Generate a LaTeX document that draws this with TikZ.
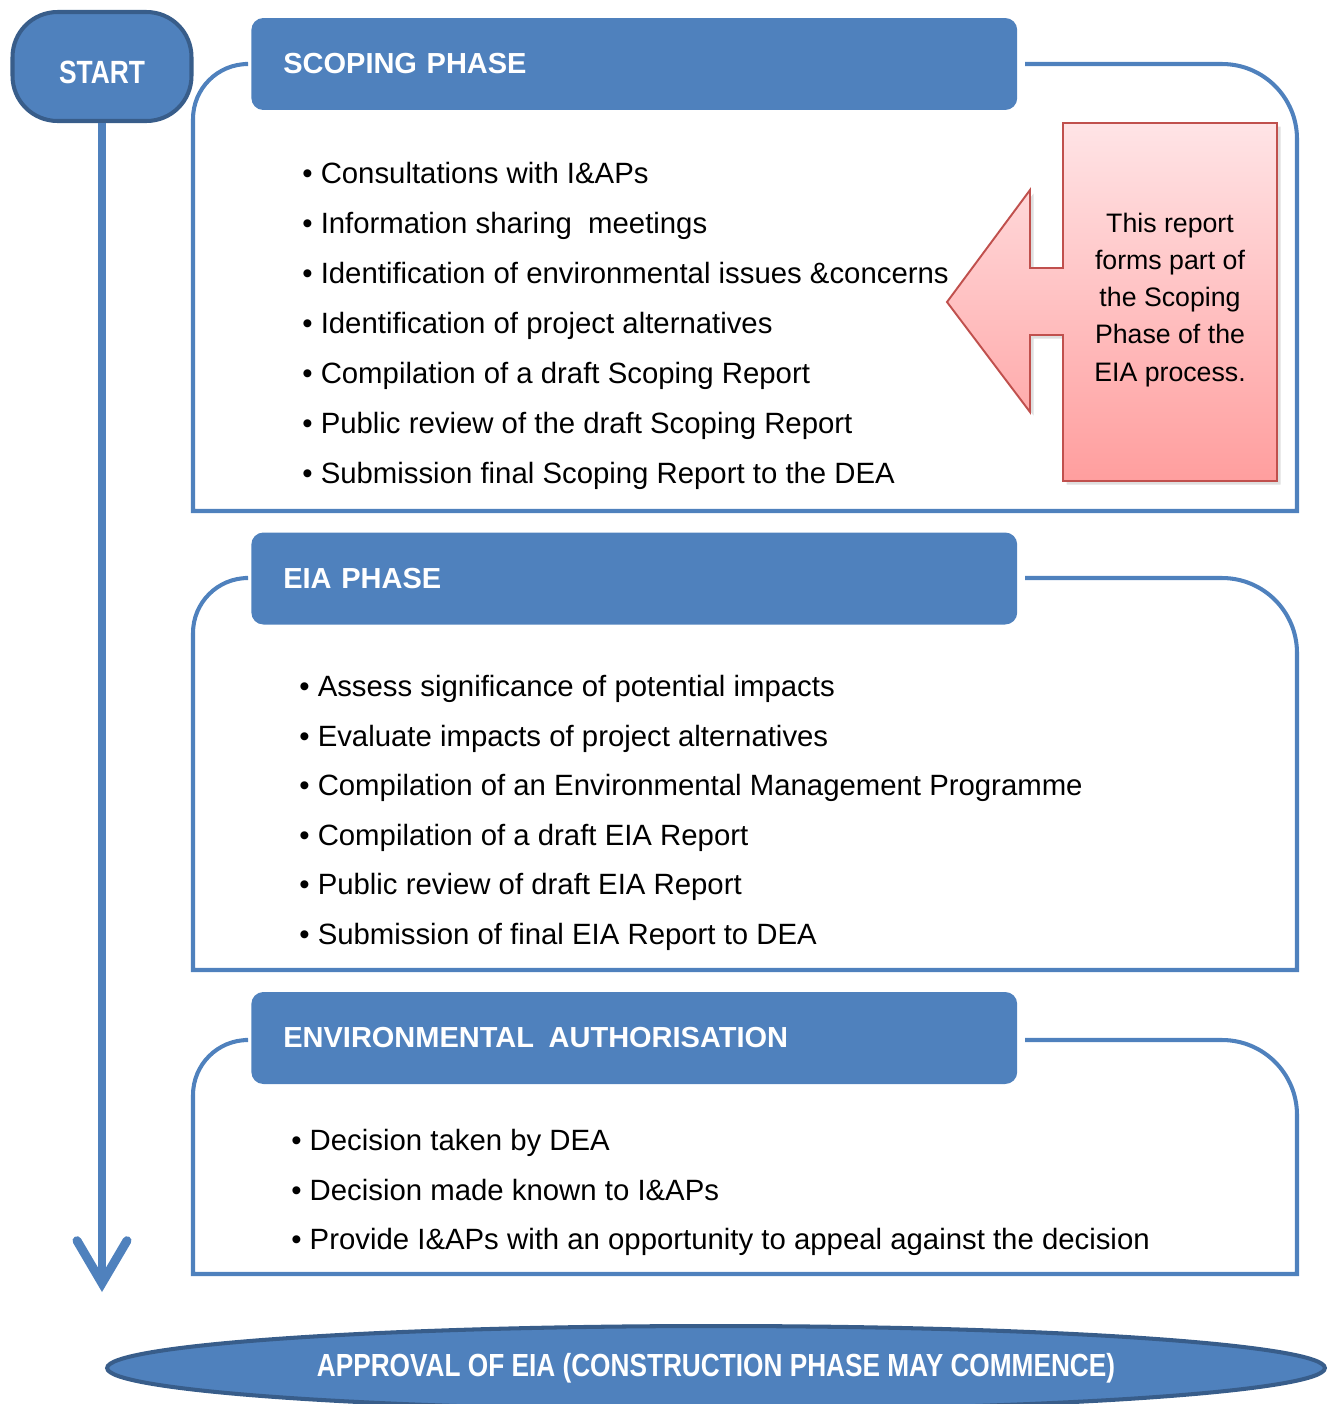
\documentclass[tikz,border=0pt]{standalone}
\usepackage{fontspec}
\setmainfont{Liberation Sans}
\newfontfamily\narrowfont[FakeStretch=0.82]{Liberation Sans}
\usetikzlibrary{arrows.meta,positioning,shapes.geometric,shadows}
\definecolor{eiablue}{RGB}{79,129,189}
\definecolor{eiadark}{RGB}{56,93,138}
\definecolor{notered}{RGB}{192,80,77}
\definecolor{notetop}{RGB}{255,228,230}
\definecolor{notebot}{RGB}{255,158,158}

\begin{document}
\begin{tikzpicture}[
  x=0.02cm, y=-0.02cm,
  terminal/.style={draw=eiadark, line width=2.3pt, fill=eiablue, rounded corners=0.9cm, minimum width=3.58cm, minimum height=2.18cm, inner sep=0pt, text height=0.68cm, text depth=0pt, text=white, font=\narrowfont\bfseries\fontsize{18.3}{20}\selectfont},
  phasehead/.style={fill=eiablue, rounded corners=0.24cm, minimum height=1.84cm, text width=14.04cm, inner xsep=0.64cm, align=left, text=white, font=\bfseries\fontsize{16.5}{20}\selectfont, anchor=west},
  frame/.style={draw=eiablue, line width=2.3pt},
  item/.style={anchor=base west, inner sep=0pt, font=\fontsize{16.7}{20}\selectfont},
  note/.style={align=center, inner sep=0pt, font=\fontsize{15.2}{21.1}\selectfont},
  flow/.style={draw=eiablue, line width=5.1pt, -{Straight Barb[length=0.85cm, width=1.0cm, line cap=round, line join=miter]}},
  finish/.style={ellipse, draw=eiadark, line width=2.3pt, fill=eiablue, minimum width=24.36cm, minimum height=1.68cm, inner sep=0pt, text=white, font=\narrowfont\bfseries\fontsize{18.2}{22}\selectfont}
]
\useasboundingbox (0,0) rectangle (1336,1404);

% start and the long arrow
\node[terminal] (start) at (102,66.5) {START};
\coordinate (flowend) at (104,1292);
\draw[flow] (start.south) -- (start.south |- flowend);

% scoping phase
\draw[frame] (245,64) [rounded corners=1.1cm] -| (193,300) [sharp corners] |- (1297,511) -- (1297,300) [rounded corners=1.5cm] |- (1025,64);
\node[phasehead] (scopehead) at (251,64) {SCOPING PHASE};
\foreach \txt [count=\i] in {Consultations with I\&APs, Information sharing\ \ meetings, Identification of environmental issues \&concerns, Identification of project alternatives, Compilation of a draft Scoping Report, Public review of the draft Scoping Report, Submission final Scoping Report to the DEA}
  \node[item] (scope\i) at (302,133.5+50*\i) {\textbullet\ \txt};

% callout
\path[draw=notered, line width=1.1pt, top color=notetop, bottom color=notebot, drop shadow={opacity=0.25, shadow xshift=0.07cm, shadow yshift=-0.07cm}]
  (1063,123) -- (1277,123) -- (1277,481) -- (1063,481) -- (1063,335) -- (1030,335) -- (1030,412) -- (947,302) -- (1030,190) -- (1030,268) -- (1063,268) -- cycle;
\node[note] (notetext) at (1170,300) {This report\\forms part of\\the Scoping\\Phase of the\\EIA process.};

% eia phase
\draw[frame] (245,578) [rounded corners=1.1cm] -| (193,800) [sharp corners] |- (1297,970) -- (1297,800) [rounded corners=1.5cm] |- (1025,578);
\node[phasehead] (eiahead) at (251,578.5) {EIA PHASE};
\foreach \txt [count=\i] in {Assess significance of potential impacts, Evaluate impacts of project alternatives, Compilation of an Environmental Management Programme, Compilation of a draft EIA Report, Public review of draft EIA Report, Submission of final EIA Report to DEA}
  \node[item] (eia\i) at (299,646.9+49.6*\i) {\textbullet\ \txt};

% environmental authorisation
\draw[frame] (245,1040) [rounded corners=1.1cm] -| (193,1160) [sharp corners] |- (1297,1274) -- (1297,1160) [rounded corners=1.5cm] |- (1025,1040);
\node[phasehead] (authhead) at (251,1038) {ENVIRONMENTAL\hspace{0.1cm} AUTHORISATION};
\foreach \txt [count=\i] in {Decision taken by DEA, Decision made known to I\&APs, Provide I\&APs with an opportunity to appeal against the decision}
  \node[item] (auth\i) at (291,1101+49.5*\i) {\textbullet\ \txt};

% approval
\node[finish] (approval) at (716,1368) {APPROVAL OF EIA (CONSTRUCTION PHASE MAY COMMENCE)};
\end{tikzpicture}
\end{document}
